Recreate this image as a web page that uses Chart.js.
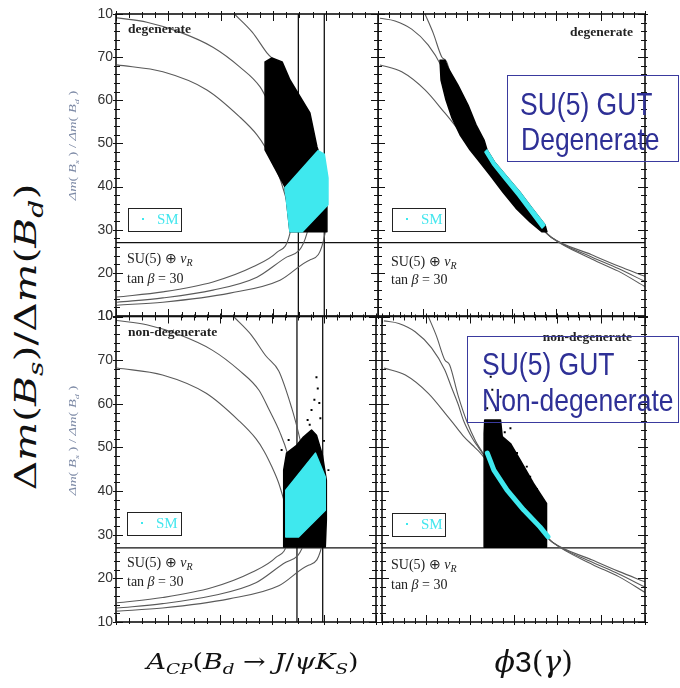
<!DOCTYPE html>
<html><head><meta charset="utf-8">
<script src="https://cdn.jsdelivr.net/npm/chart.js@4.4.0/dist/chart.umd.min.js"></script>
<style>
html,body{margin:0;padding:0;background:#fff;}
#wrap{position:relative;width:680px;height:688px;overflow:hidden;background:#fff;}
canvas{position:absolute;}
.t{position:absolute;white-space:nowrap;line-height:1;}
.lab{font-family:"Liberation Serif",serif;font-weight:bold;font-size:13.5px;color:#222;}
.ann{font-family:"Liberation Serif",serif;font-size:14px;color:#222;}
.ann sub{font-size:10px;vertical-align:-3px;font-style:italic;}
.sm{position:absolute;border:1.5px solid #222;box-sizing:border-box;}
.sm .dot{position:absolute;left:13px;top:9px;width:2px;height:2px;background:#3de8ee;}
.sm .tx{position:absolute;left:28px;top:3px;font-family:"Liberation Serif",serif;font-size:15px;color:#44e6ee;line-height:1;}
.gbox{position:absolute;border:1.5px solid #3a3a9e;box-sizing:border-box;}
.gt{position:absolute;white-space:nowrap;line-height:1;font-family:"Liberation Sans",Arial,sans-serif;font-size:26.5px;color:#2e3096;transform:scaleY(1.15);transform-origin:0 0;}
.rot{position:absolute;white-space:nowrap;line-height:1;}
</style></head><body>
<div id="wrap">
 <canvas id="cTL" width="300" height="330" style="left:80px;top:0px;width:300px;height:330px"></canvas>
 <canvas id="cBL" width="300" height="330" style="left:80px;top:304px;width:300px;height:330px"></canvas>
 <canvas id="cTR" width="272" height="330" style="left:378px;top:0px;width:272px;height:330px"></canvas>
 <canvas id="cBR" width="272" height="330" style="left:378px;top:304px;width:272px;height:330px"></canvas>

 <div class="t lab" style="left:128px;top:21.7px">degenerate</div>
 <div class="t lab" style="right:47px;top:24.7px">degenerate</div>
 <div class="t lab" style="left:128px;top:324.7px">non-degenerate</div>
 <div class="t lab" style="right:48px;top:329.7px">non-degenerate</div>

 <div class="t ann" style="left:127px;top:252.3px">SU(5) ⊕ <i>ν</i><sub>R</sub></div>
 <div class="t ann" style="left:127px;top:272.3px">tan <i>β</i> = 30</div>
 <div class="t ann" style="left:391px;top:255.3px">SU(5) ⊕ <i>ν</i><sub>R</sub></div>
 <div class="t ann" style="left:391px;top:273.3px">tan <i>β</i> = 30</div>
 <div class="t ann" style="left:127px;top:556.3px">SU(5) ⊕ <i>ν</i><sub>R</sub></div>
 <div class="t ann" style="left:127px;top:575.3px">tan <i>β</i> = 30</div>
 <div class="t ann" style="left:391px;top:558.3px">SU(5) ⊕ <i>ν</i><sub>R</sub></div>
 <div class="t ann" style="left:391px;top:578.3px">tan <i>β</i> = 30</div>

 <div class="sm" style="left:128px;top:208px;width:54px;height:24px"><div class="dot"></div><div class="tx">SM</div></div>
 <div class="sm" style="left:127px;top:512px;width:55px;height:24px"><div class="dot"></div><div class="tx">SM</div></div>
 <div class="sm" style="left:392px;top:208px;width:54px;height:24px"><div class="dot"></div><div class="tx">SM</div></div>
 <div class="sm" style="left:392px;top:513px;width:54px;height:24px"><div class="dot"></div><div class="tx">SM</div></div>

 <div class="gbox" style="left:507px;top:75px;width:172px;height:87px"></div>
 <div class="gt" style="left:520px;top:89.5px">SU(5) GUT</div>
 <div class="gt" style="left:521px;top:124.5px">Degenerate</div>
 <div class="gbox" style="left:467px;top:336px;width:212px;height:87px"></div>
 <div class="gt" style="left:482px;top:349.5px">SU(5) GUT</div>
 <div class="gt" style="left:482px;top:385.5px">Non-degenerate</div>

 <div id="bigY" class="rot" style="font-family:'DejaVu Serif',serif;font-size:29px;color:#111">Δ<i>m</i>(<i>B</i><sub style="font-size:20px"><i>s</i></sub>)/Δ<i>m</i>(<i>B</i><sub style="font-size:20px"><i>d</i></sub>)</div>
 <div id="smY1" class="rot" style="font-family:'Liberation Serif',serif;font-size:10px;color:#7d8aa6"><i>Δm</i>( <i>B<sub style="font-size:7px">s</sub></i> ) / <i>Δm</i>( <i>B<sub style="font-size:7px">d</sub></i> )</div>
 <div id="smY2" class="rot" style="font-family:'Liberation Serif',serif;font-size:10px;color:#7d8aa6"><i>Δm</i>( <i>B<sub style="font-size:7px">s</sub></i> ) / <i>Δm</i>( <i>B<sub style="font-size:7px">d</sub></i> )</div>
 <div id="xLab1" class="rot" style="font-family:'DejaVu Serif',serif;font-size:22px;color:#111"><i>A</i><sub style="font-size:15px"><i>CP</i></sub>(<i>B</i><sub style="font-size:15px"><i>d</i></sub> → <i>J</i>/<i>ψK</i><sub style="font-size:15px"><i>S</i></sub>)</div>
 <div id="xLab2" class="rot" style="font-family:'DejaVu Serif',serif;font-size:30px;color:#111"><i>ϕ</i><span style="font-family:'Liberation Sans',sans-serif">3</span>(<i>γ</i>)</div>
</div>
<script>
// ---------- data ----------
const yTickValues = [10, 20, 30, 40, 50, 60, 70, 80];
const yTickLabels = ['10', '20', '30', '40', '50', '60', '70', '10'];
const acpMajorTicks = [0, 0.2, 0.4, 0.6, 0.8, 1.0];
const phiMajorTicks = [0, 30, 60, 90, 120, 150, 180];
const acpLines = [0.696, 0.795];
const ratioLine = 27;

// theoretical contours, A_CP panels (x = A_CP, y = ratio)
const acpUpperA = [[0.004,79.1],[0.118,78.1],[0.244,75.8],[0.370,72.3],[0.473,67.7],[0.550,63.1],[0.59,58.5],[0.63,53.5],[0.66,48.5],[0.68,43]];
const acpUpperB = [[0.004,68.2],[0.179,66.6],[0.347,62.4],[0.473,56.1],[0.538,52.0],[0.569,49.2],[0.60,45.5],[0.626,41.8],[0.655,36]];
const acpUpperC = [[0.452,80],[0.52,75.8],[0.576,71],[0.626,67.5],[0.676,59],[0.702,53.3],[0.73,46],[0.75,40]];
const acpLower1 = [[0.004,14.4],[0.179,15.6],[0.370,17.9],[0.523,21.4],[0.615,24.8],[0.664,29.2],[0.672,33]];
const acpLower2 = [[0.004,13.2],[0.179,14.2],[0.370,16.0],[0.538,19.0],[0.653,23.7],[0.729,29.2],[0.735,33]];
const acpLower3 = [[0.004,12.5],[0.179,13.2],[0.435,15.3],[0.626,18.3],[0.740,23.0],[0.798,29.2],[0.80,33]];

// theoretical contours, phi3 panels (x = phi3 in degrees)
const phiCurveA = [[1.3,79.0],[11.5,78.4],[22.7,76.5],[33.9,72.8],[42.9,67.8],[47.4,63.9],[52,60],[56,56],[62,52],[66,50],[70,48],[75,45],[86,40],[98,35],[108.5,31],[117,28.2],[144,24.2],[162,21.6],[180,19.2]];
const phiCurveB = [[1.3,68.2],[16.0,66.6],[31.7,62.4],[45.2,57.0],[50,55],[56,52.5],[62,50.5],[66,49.2],[70,47.6],[75,45],[86,40],[98,35],[108.5,31],[117,28.2],[144,23.7],[162,21.0],[180,18.0]];
const phiCurveC = [[31.7,80],[37.3,75.5],[42.9,70.1],[46.3,68.9],[52,62],[58,56],[64,51.5],[70,48.2],[75,45],[86,40],[98,35],[108.5,31],[117,28.2],[144,23.2],[162,20.4],[180,16.8]];

// scan regions (outlines of the scatter clouds)
const degAcpAll = [[0.569,68.9],[0.595,69.8],[0.634,68.9],[0.664,64.7],[0.740,57.1],[0.767,49.2],[0.790,45.0],[0.805,36.9],[0.805,29.5],[0.664,29.5],[0.645,39.9],[0.569,48.5],[0.569,64.0]];
const degAcpSM = [[0.645,39.7],[0.771,48.3],[0.795,47.5],[0.809,42],[0.809,35.8],[0.710,29.5],[0.664,29.5]];
const nondegAcpAll = [[0.645,44.8],[0.656,48.7],[0.695,50.5],[0.721,52.4],[0.752,54.0],[0.771,52.8],[0.794,48.2],[0.809,42.5],[0.809,33.4],[0.805,27.2],[0.645,27.2]];
const nondegAcpSM = [[0.653,40.2],[0.767,48.7],[0.805,43.2],[0.805,35.6],[0.702,29.5],[0.653,29.5]];
const nondegAcpOutliers = [[0.771,66.1],[0.763,60.9],[0.782,60.2],[0.752,58.6],[0.786,56.7],[0.737,56.3],[0.637,49.4],[0.664,51.7],[0.817,44.8],[0.776,63.5],[0.745,55.2],[0.80,51.5]];
const degPhiAll = [[41.8,69.3],[42.5,64.7],[45.8,60.1],[49.9,55.9],[55.3,52.0],[62.0,48.5],[67.4,46.2],[75.5,42.7],[84.3,38.7],[93.0,35.0],[102.5,31.8],[110.6,29.5],[113.9,29.5],[112.6,31.1],[103.8,35.0],[95.7,38.7],[87.0,42.2],[78.9,45.5],[73.5,48.5],[71.5,50.8],[66.1,54.3],[60.7,58.9],[53.9,63.5],[47.2,67.5],[45.2,69.3]];
const degPhiSM = [[72.1,48.0],[77.5,45.0],[85.6,41.5],[94.4,37.8],[102.5,34.1],[110.6,30.4],[112.6,31.1],[103.8,35.0],[95.7,38.7],[87.0,42.2],[78.9,45.5],[73.5,48.5]];
const nondegPhiAll = [[69.9,53.2],[70.3,56.3],[81.1,56.3],[82.3,52.5],[87.9,50.9],[94.6,47.1],[103.6,41.8],[112.6,37.2],[112.6,27.1],[69.9,27.1]];
const nondegPhiSM = [[72.1,48.7],[76.6,44.8],[85.6,40.2],[96.9,35.7],[108.1,31.8],[113.7,29.5]];
const nondegPhiOutliers = [[74.4,66.2],[75.5,63.2],[81.1,61.6],[72,59],[78,58.5],[87.9,54.4],[92.4,48.7],[99.1,45.6],[101.4,43.3],[84,53.5],[106,40.5],[73.3,29.5]];

// ---------- helpers ----------
const pts = a => a.map(([x, y]) => ({x, y}));
const curve = a => ({data: pts(a), showLine: true, pointRadius: 0, borderColor: '#5a5a5a', borderWidth: 1.1, fill: false, cubicInterpolationMode: 'monotone'});
const refLine = a => ({data: pts(a), showLine: true, pointRadius: 0, borderColor: '#111', borderWidth: 1.3, fill: false});
const region = (a, color) => ({data: pts(a), showLine: false, pointRadius: 0, cloudFill: color});
const band = (a, color, w) => ({data: pts(a), showLine: false, pointRadius: 0, cloudStroke: color, cloudWidth: w});
const dots = a => ({data: pts(a), showLine: false, pointRadius: 1.4, pointStyle: 'rect', pointBackgroundColor: '#000', pointBorderWidth: 0});
const CYAN = '#3fe8ee';

const deco = {
  id: 'deco',
  afterDatasetsDraw(chart) {
    const ctx = chart.ctx;
    chart.data.datasets.forEach((ds, i) => {
      if (!ds.cloudFill && !ds.cloudStroke) return;
      const el = chart.getDatasetMeta(i).data;
      ctx.save();
      ctx.beginPath();
      el.forEach((p, k) => k ? ctx.lineTo(p.x, p.y) : ctx.moveTo(p.x, p.y));
      ctx.lineJoin = 'round'; ctx.lineCap = 'round';
      if (ds.cloudFill) {
        ctx.closePath(); ctx.fillStyle = ds.cloudFill; ctx.fill();
        ctx.strokeStyle = ds.cloudFill; ctx.lineWidth = 1.5; ctx.stroke();
      } else {
        ctx.strokeStyle = ds.cloudStroke; ctx.lineWidth = ds.cloudWidth; ctx.stroke();
      }
      ctx.restore();
    });
  },
  afterDraw(chart, args, o) {
    const {ctx, chartArea: a, scales: {x, y}} = chart;
    ctx.save();
    ctx.strokeStyle = '#111';
    ctx.lineWidth = 1;
    const near = (v, arr) => arr.some(m => Math.abs(m - v) < 1e-6);
    for (let v = x.min; v <= x.max + 1e-9; v += o.xMinor) {
      const px = Math.round(x.getPixelForValue(v)) + 0.5;
      const big = near(Math.round(v * 1e6) / 1e6, o.xMajor);
      const inL = big ? 7 : 4, outL = big ? 3 : 2;
      ctx.beginPath();
      ctx.moveTo(px, a.top - outL); ctx.lineTo(px, a.top + inL);
      ctx.moveTo(px, a.bottom + outL); ctx.lineTo(px, a.bottom - inL);
      ctx.stroke();
    }
    for (let v = 10; v <= 80 + 1e-9; v += 2) {
      const py = Math.round(y.getPixelForValue(v)) + 0.5;
      const big = near(v, yTickValues);
      const inL = big ? 7 : 4, outL = big ? 3 : 2;
      ctx.beginPath();
      ctx.moveTo(a.left - outL, py); ctx.lineTo(a.left + inL, py);
      ctx.moveTo(a.right + outL, py); ctx.lineTo(a.right - inL, py);
      ctx.stroke();
    }
    ctx.lineWidth = 1.6;
    ctx.strokeRect(a.left, a.top, a.right - a.left, a.bottom - a.top);
    ctx.restore();
  }
};

function panel(id, xr, xMajor, xMinor, showY, pad, datasets) {
  return new Chart(document.getElementById(id), {
    type: 'scatter',
    data: {datasets},
    options: {
      responsive: false, animation: false, events: [],
      layout: {padding: pad},
      plugins: {legend: {display: false}, tooltip: {enabled: false}, deco: {xMajor, xMinor}},
      scales: {
        x: {type: 'linear', min: xr[0], max: xr[1], display: false},
        y: {
          type: 'linear', min: 10, max: 80, display: showY, position: 'left',
          grid: {display: false, drawTicks: false}, border: {display: false},
          afterFit: s => { s.width = showY ? 36 : 0; },
          afterBuildTicks: s => { s.ticks = yTickValues.map(v => ({value: v})); },
          ticks: {
            display: showY, padding: 3, color: '#333',
            font: {family: "'Liberation Sans', Arial, sans-serif", size: 14},
            callback: v => yTickLabels[yTickValues.indexOf(v)]
          }
        }
      }
    },
    plugins: [deco]
  });
}

const acpCurves = [acpUpperA, acpUpperB, acpUpperC, acpLower1, acpLower2, acpLower3].map(curve);
const acpRefs = [
  refLine([[acpLines[0], 10], [acpLines[0], 80]]),
  refLine([[acpLines[1], 10], [acpLines[1], 80]]),
  refLine([[0, ratioLine], [1, ratioLine]])
];
const phiCurves = [phiCurveA, phiCurveB, phiCurveC].map(curve);
const phiRefs = [refLine([[0, ratioLine], [180, ratioLine]])];

panel('cTL', [0, 1], acpMajorTicks, 0.05, true, {top: 14, bottom: 14, left: 0, right: 2},
  [...acpCurves, ...acpRefs, region(degAcpAll, '#000'), region(degAcpSM, CYAN)]);
panel('cBL', [0, 1], acpMajorTicks, 0.05, true, {top: 12.5, bottom: 12, left: 0, right: 2},
  [...acpCurves, ...acpRefs, dots(nondegAcpOutliers), region(nondegAcpAll, '#000'), region(nondegAcpSM, CYAN)]);
panel('cTR', [0, 180], phiMajorTicks, 7.5, false, {top: 14, bottom: 14, left: 0, right: 5},
  [...phiCurves, ...phiRefs, region(degPhiAll, '#000'), region(degPhiSM, CYAN)]);
panel('cBR', [0, 180], phiMajorTicks, 7.5, false, {top: 12.5, bottom: 12, left: 0, right: 5},
  [...phiCurves, ...phiRefs, dots(nondegPhiOutliers), region(nondegPhiAll, '#000'), band(nondegPhiSM, CYAN, 5)]);

// ---------- label placement ----------
function placeRot(id, cx, cy, targetLen, angle) {
  const el = document.getElementById(id);
  const w = el.offsetWidth, h = el.offsetHeight;
  const s = targetLen ? targetLen / w : 1;
  el.style.left = (cx - w / 2) + 'px';
  el.style.top = (cy - h / 2) + 'px';
  el.style.transform = `rotate(${angle}deg) scaleX(${s})`;
  el.style.transformOrigin = '50% 50%';
}
placeRot('bigY', 29, 337, 307, -90);
placeRot('smY1', 75, 145, 110, -90);
placeRot('smY2', 75, 440, 110, -90);
placeRot('xLab1', 252, 664, 212, 0);
placeRot('xLab2', 534, 662, 0, 0);
</script>
</body></html>
